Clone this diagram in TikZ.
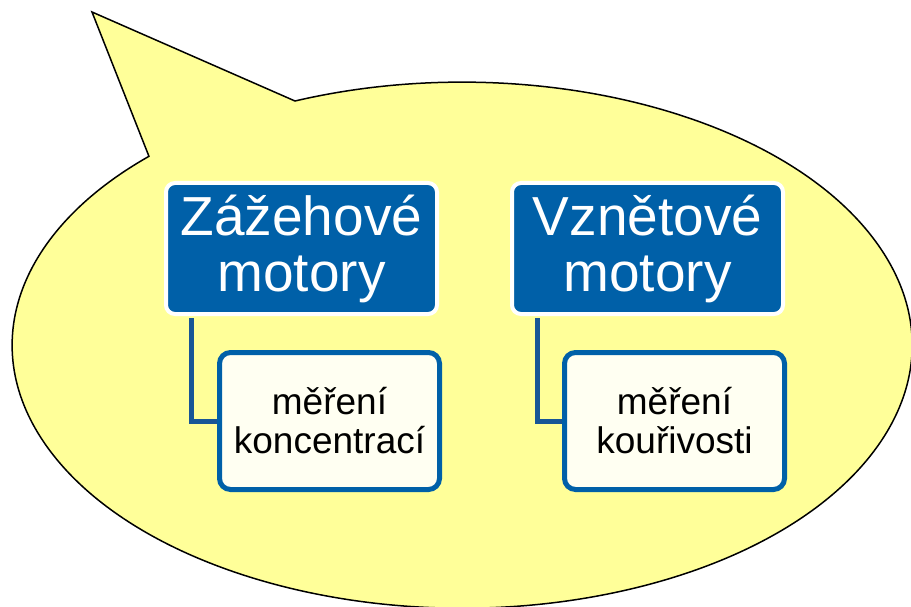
\documentclass[tikz,border=0pt]{standalone}
\usepackage{fontspec}
\setmainfont{Liberation Sans}
\definecolor{bubblefill}{RGB}{255,255,153}
\definecolor{headblue}{RGB}{0,96,168}
\definecolor{linkblue}{RGB}{24,86,150}
\definecolor{leaffill}{RGB}{255,255,242}
\tikzset{
  headbox/.style={draw=white, line width=4pt, fill=headblue, rounded corners=9pt,
    text=white, align=center, inner sep=0pt,
    font=\fontsize{55}{56}\selectfont},
  leafbox/.style={draw=headblue, line width=5pt, fill=leaffill, rounded corners=11pt,
    text=black, align=center, inner sep=0pt,
    font=\fontsize{37}{39}\selectfont},
  link/.style={draw=linkblue, line width=5pt}
}

\begin{document}
\begin{tikzpicture}[x=1pt, y=-1pt]
			\useasboundingbox (0,0) rectangle (911,607);

			% Speech bubble
			\filldraw[fill=bubblefill, draw=black, line width=1.5pt, line join=miter]
				(295,101) arc[start angle=-111.8, end angle=225.9, x radius=450, y radius=263]
				-- (92,12) -- cycle;

			% Heads
			\node[headbox, minimum width=271pt, minimum height=131pt] (zaz) at (301.5,248.5) {Zážehové\\motory};
			\node[headbox, minimum width=271pt, minimum height=131pt] (vzn) at (647.5,248.5) {Vznětové\\motory};

			% Leaves
			\node[leafbox, minimum width=220pt, minimum height=137pt] (konc) at (329.5,421) {měření\\koncentrací};
			\node[leafbox, minimum width=220pt, minimum height=137pt] (kour) at (674.5,421) {měření\\kouřivosti};

			% Links
			\draw[link] ([xshift=-110pt, yshift=-2pt]zaz.south) |- (konc.west);
			\draw[link] ([xshift=-110pt, yshift=-2pt]vzn.south) |- (kour.west);
		\end{tikzpicture}
\end{document}
